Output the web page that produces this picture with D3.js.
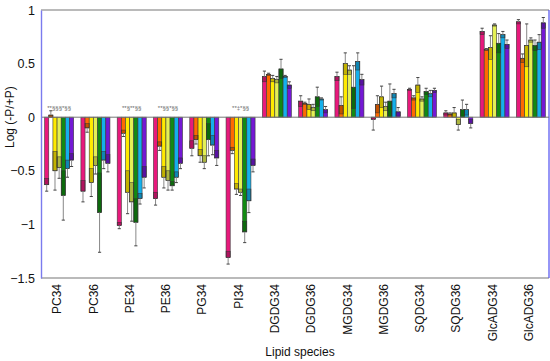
<!DOCTYPE html>
<html><head><meta charset="utf-8">
<script src="https://cdn.jsdelivr.net/npm/d3@7"></script>
<style>body{margin:0;background:#fff}svg{display:block;font-family:"Liberation Sans",Arial,sans-serif}</style>
</head><body><svg id="c" width="550" height="361"></svg>
<script>
const categories = ["PC34","PC36","PE34","PE36","PG34","PI34","DGDG34","DGDG36","MGDG34","MGDG36","SQDG34","SQDG36","GlcADG34","GlcADG36"];
const seriesNames = ["S1","S2","S3","S4","S5","S6","S7"];
const seriesColors = ["#e8197c","#ff6a00","#ffea00","#e4f055","#128a12","#14b0ec","#7418d4"];
const s1 = [-0.63,-0.69,-1.01,-0.76,-0.29,-1.31,0.38,0.15,0.38,-0.02,0.26,0.04,0.80,0.89];
const s2 = [0.02,-0.10,-0.15,-0.27,-0.21,-0.31,0.40,0.13,0.11,0.12,0.18,0.03,0.63,0.55];
const s3 = [-0.50,-0.61,-0.70,-0.56,-0.36,-0.67,0.36,0.12,0.50,0.19,0.30,0.04,0.65,0.67];
const s4 = [-0.47,-0.45,-0.79,-0.59,-0.42,-0.70,0.35,0.09,0.44,0.10,0.17,-0.07,0.86,0.72];
const s5 = [-0.73,-0.89,-0.98,-0.64,-0.21,-1.07,0.45,0.19,0.28,0.15,0.24,0.07,0.69,0.67];
const s6 = [-0.48,-0.40,-0.76,-0.56,-0.26,-0.78,0.38,0.17,0.52,0.22,0.22,0.07,0.77,0.70];
const s7 = [-0.40,-0.43,-0.56,-0.43,-0.38,-0.45,0.30,0.07,0.35,0.05,0.25,-0.06,0.68,0.88];
const e1 = [0.06,0.10,0.03,0.06,0.07,0.06,0.05,0.05,0.04,0.10,0.01,0.02,0.03,0.02];
const e2 = [0.04,0.04,0.03,0.04,0.04,0.03,0.01,0.01,0.08,0.08,0.02,0.01,0.01,0.04];
const e3 = [0.18,0.13,0.20,0.10,0.06,0.05,0.03,0.05,0.10,0.10,0.07,0.05,0.11,0.20];
const e4 = [0.10,0.08,0.18,0.09,0.06,0.03,0.03,0.03,0.04,0.04,0.02,0.05,0.01,0.02];
const e5 = [0.23,0.37,0.22,0.04,0.15,0.10,0.09,0.09,0.20,0.16,0.03,0.09,0.09,0.05];
const e6 = [0.08,0.08,0.05,0.05,0.09,0.11,0.01,0.01,0.08,0.04,0.03,0.05,0.03,0.07];
const e7 = [0.06,0.08,0.10,0.05,0.07,0.06,0.03,0.03,0.05,0.04,0.02,0.04,0.04,0.05];
const annotations = ["**§§§*§§","","**§**§§","**§§*§§","","**‡*§§","","","","","","","",""];
const yTicks = [1,0.5,0,-0.5,-1,-1.5];
const yTitle = "Log (-P/+P)";
const xTitle = "Lipid species";

const values = [s1,s2,s3,s4,s5,s6,s7];
const errors = [e1,e2,e3,e4,e5,e6,e7];

const svg = d3.select("#c");
const L = 41, R = 549, T = 10, B = 278;
const x = d3.scaleBand().domain(categories).range([L, R]).paddingInner(0.2).paddingOuter(0.1);
const xs = d3.scaleBand().domain(seriesNames).range([0, x.bandwidth()]);
const y = d3.scaleLinear().domain([-1.5, 1]).range([B, T]);

// frame
svg.append("line").attr("x1",L).attr("x2",R).attr("y1",T).attr("y2",T).attr("stroke","#777").attr("stroke-width",1.2);
svg.append("line").attr("x1",L).attr("x2",R).attr("y1",B).attr("y2",B).attr("stroke","#777").attr("stroke-width",1.2);
svg.append("line").attr("x1",R).attr("x2",R).attr("y1",T).attr("y2",B).attr("stroke","#5050f0").attr("stroke-width",1.2);

const data = [];
categories.forEach((c, ci) => seriesNames.forEach((s, si) => {
  data.push({c, s, si, v: values[si][ci], e: errors[si][ci]});
}));

const g = svg.append("g");
const bx = d => x(d.c) + xs(d.s);
const bw = xs.bandwidth();
// bars
g.selectAll("rect.bar").data(data).join("rect").attr("class","bar")
  .attr("x", bx).attr("width", bw)
  .attr("y", d => y(Math.max(0, d.v))).attr("height", d => Math.abs(y(d.v) - y(0)))
  .attr("fill", d => seriesColors[d.si]).attr("stroke", "#3a3a3a").attr("stroke-width", 0.6);
// darker inner error segment
g.selectAll("rect.dark").data(data).join("rect").attr("class","dark")
  .attr("x", bx).attr("width", bw)
  .attr("y", d => d.v >= 0 ? y(d.v) : y(Math.min(0, d.v + d.e)))
  .attr("height", d => d.v >= 0 ? y(Math.max(0, d.v - d.e)) - y(d.v) : y(d.v) - y(Math.min(0, d.v + d.e)))
  .attr("fill", "rgba(0,0,0,0.24)").attr("stroke", "#333").attr("stroke-width", 0.5);
// whiskers
const wk = d => d.v >= 0 ? d.v + d.e : d.v - d.e;
g.selectAll("line.wh").data(data).join("line").attr("class","wh")
  .attr("x1", d => bx(d) + bw/2).attr("x2", d => bx(d) + bw/2)
  .attr("y1", d => y(d.v)).attr("y2", d => y(wk(d)))
  .attr("stroke", "#888").attr("stroke-width", 1);
g.selectAll("line.cap").data(data).join("line").attr("class","cap")
  .attr("x1", d => bx(d) + 0.5).attr("x2", d => bx(d) + bw - 0.5)
  .attr("y1", d => y(wk(d))).attr("y2", d => y(wk(d)))
  .attr("stroke", "#444").attr("stroke-width", 1);

// zero line
svg.append("line").attr("x1",L).attr("x2",R).attr("y1",y(0)).attr("y2",y(0)).attr("stroke","#777").attr("stroke-width",1);

// annotations
svg.selectAll("text.ann").data(categories.map((c,i)=>({c,t:annotations[i]})).filter(d=>d.t)).join("text")
  .attr("class","ann").attr("x", d => x(d.c) + x.bandwidth()/2).attr("y", y(0) - 7)
  .attr("text-anchor","middle").attr("font-size", 6).attr("fill","#666").text(d => d.t);

// y axis
const ya = svg.append("g").attr("transform", `translate(${L},0)`)
  .call(d3.axisLeft(y).tickValues(yTicks).tickSize(0).tickPadding(6).tickFormat(d3.format("")));
ya.select(".domain").attr("stroke","#7b7bee").attr("stroke-width",1.4);
ya.selectAll("text").attr("font-size",12.5).attr("fill","#111").attr("font-family","Liberation Sans, Arial, sans-serif");

// x axis labels
svg.selectAll("text.xl").data(categories).join("text").attr("class","xl")
  .attr("transform", d => `translate(${x(d) + x.bandwidth()/2 - 2},${B + 6}) rotate(-90)`)
  .attr("text-anchor","end").attr("dy","0.35em").attr("font-size",12).attr("fill","#111").text(d => d);

svg.append("text").attr("x", 300).attr("y", 356).attr("text-anchor","middle").attr("font-size",12).attr("fill","#111").text(xTitle);
svg.append("text").attr("transform", `translate(14,${y(0)}) rotate(-90)`).attr("text-anchor","middle").attr("font-size",12).attr("fill","#111").text(yTitle);
</script></body></html>
